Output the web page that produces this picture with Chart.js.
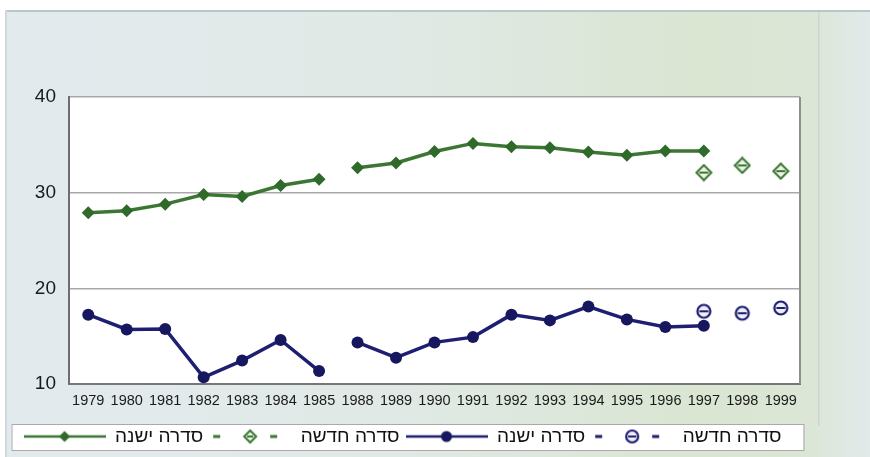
<!DOCTYPE html>
<html><head><meta charset="utf-8">
<script src="https://cdn.jsdelivr.net/npm/chart.js@4/dist/chart.umd.min.js"></script>
<style>html,body{margin:0;padding:0;background:#fff;}#wrap{width:870px;height:457px;}</style>
</head><body><div id="wrap"><canvas id="c" width="870" height="457"></canvas></div>
<script>
const years = ['1979','1980','1981','1982','1983','1984','1985','1988','1989','1990','1991','1992','1993','1994','1995','1996','1997','1998','1999'];
const greenOld = [27.9,28.1,28.8,29.8,29.6,30.75,31.4,32.6,33.1,34.3,35.15,34.8,34.7,34.25,33.9,34.35,34.35,null,null];
const greenNew = [null,null,null,null,null,null,null,null,null,null,null,null,null,null,null,null,32.1,32.85,32.25];
const blueOld = [17.25,15.7,15.75,10.7,12.45,14.6,11.35,14.35,12.75,14.35,14.9,17.25,16.65,18.1,16.75,15.95,16.1,null,null];
const blueNew = [null,null,null,null,null,null,null,null,null,null,null,null,null,null,null,null,17.6,17.4,17.95];
const yTicks = [10,20,30,40];
const seriesNames = ['סדרה ישנה','סדרה חדשה','סדרה ישנה','סדרה חדשה'];
const gapAfter = years.indexOf('1985');

const GREEN = '#3b7733', GREEN_D = '#2f6a2a', BLUE = '#1e1e72', BLUE_D = '#17175f';

function mk(w,h,draw){const c=document.createElement('canvas');c.width=w;c.height=h;draw(c.getContext('2d'),w,h);return c;}
function diamond(ctx,x,y,r,fill,stroke,lw,bar){
  ctx.beginPath();ctx.moveTo(x,y-r);ctx.lineTo(x+r,y);ctx.lineTo(x,y+r);ctx.lineTo(x-r,y);ctx.closePath();
  if(fill){ctx.fillStyle=fill;ctx.fill();}
  if(stroke){ctx.strokeStyle=stroke;ctx.lineWidth=lw;ctx.stroke();}
  if(bar){ctx.beginPath();ctx.moveTo(x-r+3,y);ctx.lineTo(x+r-3,y);ctx.strokeStyle=stroke;ctx.lineWidth=2;ctx.stroke();}
}
function circle(ctx,x,y,r,fill,stroke,lw,bar){
  ctx.beginPath();ctx.arc(x,y,r,0,Math.PI*2);
  if(fill){ctx.fillStyle=fill;ctx.fill();}
  if(stroke){ctx.strokeStyle=stroke;ctx.lineWidth=lw;ctx.stroke();}
  if(bar){ctx.beginPath();ctx.moveTo(x-r+2,y);ctx.lineTo(x+r-2,y);ctx.strokeStyle=stroke;ctx.lineWidth=2;ctx.stroke();}
}
const ptGreenNew = mk(18,18,(c)=>diamond(c,9,9,7.5,'#eef4e8',GREEN,2,true));
const ptBlueNew = mk(18,18,(c)=>circle(c,9,9,6.5,'#eeeef6',BLUE,2.2,true));

const SW = 82, SH = 20;
const lgGreenOld = mk(SW,SH,(c,w,h)=>{c.strokeStyle=GREEN;c.lineWidth=2.5;c.beginPath();c.moveTo(0,h/2);c.lineTo(w,h/2);c.stroke();diamond(c,w/2,h/2,5.5,GREEN_D);});
const lgGreenNew = mk(SW,SH,(c,w,h)=>{c.fillStyle=GREEN;c.fillRect(w/2-37,h/2-1.5,7,3);c.fillRect(w/2+20,h/2-1.5,7,3);diamond(c,w/2,h/2,6,'#eef4e8',GREEN,2,true);});
const lgBlueOld = mk(SW,SH,(c,w,h)=>{c.strokeStyle=BLUE;c.lineWidth=2.5;c.beginPath();c.moveTo(0,h/2);c.lineTo(w,h/2);c.stroke();circle(c,w/2,h/2,5.5,BLUE_D);});
const lgBlueNew = mk(SW,SH,(c,w,h)=>{c.fillStyle=BLUE;c.fillRect(w/2-37,h/2-1.5,7,3);c.fillRect(w/2+20,h/2-1.5,7,3);circle(c,w/2,h/2,6,'#eeeef6',BLUE,2.2,true);});
const legendSymbols = [lgGreenOld,lgGreenNew,lgBlueOld,lgBlueNew];

const bgPlugin = {
  id:'bg',
  beforeDraw(chart){
    const {ctx,chartArea:a,width,height} = chart;
    ctx.save();
    ctx.fillStyle='#ffffff';ctx.fillRect(0,0,width,height);
    const g=ctx.createLinearGradient(5,0,width,0);
    g.addColorStop(0,'#e3eaee');g.addColorStop(0.45,'#e1e9e6');g.addColorStop(0.8,'#dae5d2');g.addColorStop(0.93,'#dce6d6');g.addColorStop(1,'#e2eaea');
    ctx.fillStyle=g;ctx.fillRect(5,10,width-5,height-10);
    ctx.fillStyle='#bcc6c8';ctx.fillRect(5,10,width-5,2);
    ctx.fillStyle='#d0d9d9';ctx.fillRect(5,10,2,height-10);
    ctx.fillStyle='#ccd6d2';ctx.fillRect(a.right+18,12,1.5,a.bottom+30);
    ctx.fillStyle='#ffffff';ctx.fillRect(a.left,a.top,a.right-a.left,a.bottom-a.top);
    const lg = chart.legend;
    if(lg && lg.legendHitBoxes && lg.legendHitBoxes.length){
      const hb = lg.legendHitBoxes;
      const l = Math.min(...hb.map(b=>b.left))-12, r = Math.max(...hb.map(b=>b.left+b.width))+22;
      const t = Math.min(...hb.map(b=>b.top))-3, bt = Math.max(...hb.map(b=>b.top+b.height))+4;
      ctx.fillStyle='#ffffff';ctx.fillRect(l,t,r-l,bt-t);
      ctx.strokeStyle='#a9a9a9';ctx.lineWidth=1;ctx.strokeRect(l+0.5,t+0.5,r-l,bt-t);
    }
    ctx.restore();
  },
  beforeDatasetsDraw(chart){
    const {ctx,chartArea:a} = chart;
    ctx.save();ctx.strokeStyle='#8e8e8e';ctx.lineWidth=2;
    ctx.beginPath();ctx.moveTo(a.right,a.top);ctx.lineTo(a.right,a.bottom);ctx.stroke();
    ctx.restore();
  }
};

Chart.defaults.font.family = "'Liberation Sans', Arial, sans-serif";
Chart.defaults.color = '#1a1a1a';

new Chart(document.getElementById('c'), {
  type:'line',
  data:{
    labels: years,
    datasets:[
      {label:seriesNames[0],data:greenOld,borderColor:GREEN,backgroundColor:GREEN_D,borderWidth:3.5,pointStyle:'rectRot',pointRadius:6.5,pointBorderWidth:0,pointBackgroundColor:GREEN_D,
       segment:{borderColor:ctx=>ctx.p0DataIndex===gapAfter?'rgba(0,0,0,0)':undefined}},
      {label:seriesNames[1],data:greenNew,showLine:false,pointStyle:ptGreenNew,pointRadius:7,borderColor:GREEN},
      {label:seriesNames[2],data:blueOld,borderColor:BLUE,backgroundColor:BLUE_D,borderWidth:3.5,pointStyle:'circle',pointRadius:6,pointBorderWidth:0,pointBackgroundColor:BLUE_D,
       segment:{borderColor:ctx=>ctx.p0DataIndex===gapAfter?'rgba(0,0,0,0)':undefined}},
      {label:seriesNames[3],data:blueNew,showLine:false,pointStyle:ptBlueNew,pointRadius:7,borderColor:BLUE}
    ]
  },
  options:{
    responsive:false,animation:false,
    layout:{padding:{left:5,right:70,top:97,bottom:1}},
    plugins:{
      tooltip:{enabled:false},
      legend:{
        position:'bottom',
        labels:{
          usePointStyle:true,pointStyleWidth:SW,boxHeight:19,padding:6,color:'#111',
          font:{family:"'Liberation Sans',sans-serif",size:19},
          generateLabels(chart){
            return chart.data.datasets.map((d,i)=>({text:d.label,pointStyle:legendSymbols[i],fillStyle:'transparent',strokeStyle:'transparent',lineWidth:0,hidden:false,datasetIndex:i,fontColor:'#111'}));
          }
        }
      }
    },
    scales:{
      x:{
        offset:true,
        grid:{display:false,drawTicks:false,offset:true},
        border:{display:true,color:'#777',width:2},
        ticks:{autoSkip:false,maxRotation:0,padding:8,color:'#1a1a1a',font:{size:14.5}},
        afterFit(s){s.height=37;}
      },
      y:{
        min:10,max:40,
        afterBuildTicks(s){s.ticks=yTicks.map(v=>({value:v}));},
        grid:{color:'#a8a8a8',lineWidth:1.5,drawTicks:false},
        border:{display:true,color:'#6e6e6e',width:2},
        ticks:{padding:13,color:'#1a1a1a',font:{size:19}},
        afterFit(s){s.width=64;}
      }
    }
  },
  plugins:[bgPlugin]
});
</script>
</body></html>
